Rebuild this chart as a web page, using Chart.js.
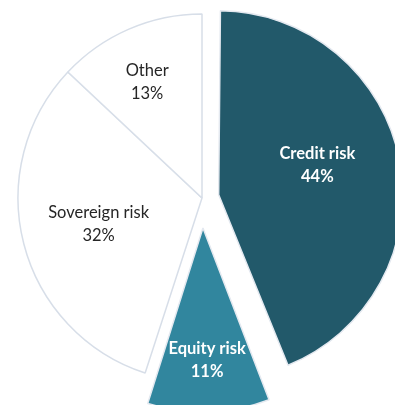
<!DOCTYPE html>
<html>
<head>
<meta charset="utf-8">
<script src="https://cdn.jsdelivr.net/npm/chart.js@4"></script>
<style>
  html, body { margin: 0; padding: 0; background: #fff; overflow: hidden; }
  #wrap { position: relative; width: 395px; height: 405px; overflow: hidden; }
  #riskChart { position: absolute; left: 0; top: 0; }
</style>
</head>
<body>
<div id="wrap">
  <canvas id="riskChart" width="420" height="420"></canvas>
</div>
<script>
// Riskide jaotus (%)
const categories = ['Credit risk', 'Equity risk', 'Sovereign risk', 'Other'];
const shares = [44, 11, 32, 13];
const sliceColors = ['#22596a', '#31869e', '#ffffff', '#ffffff'];
const labelColors = ['#ffffff', '#ffffff', '#262626', '#262626'];
const labelBold = [true, true, false, false];
const shift = [17, 30, 0, 0]; // sektori väljatõmme pikslites

const PIE_RADIUS = 184;

// Chart.js nihutab sektorit offset/4 võrra ja suurendab ka raadiust,
// seega hoiame raadiuse kõigil sektoritel ühesugusena
const keepRadius = {
    id: 'keepRadius',
    beforeDatasetsDraw(chart) {
        chart.getDatasetMeta(0).data.forEach((arc, i) => {
            const circ = arc.endAngle - arc.startAngle;
            const fix = 1 - Math.sin(Math.min(Math.PI, circ));
            arc.outerRadius = PIE_RADIUS - shift[i] * fix;
        });
    }
};

// Sildid iga sektori sisse (kaks rida: nimi ja protsent)
const sliceLabels = {
    id: 'sliceLabels',
    afterDatasetsDraw(chart, args, opts) {
        const ctx = chart.ctx;
        const meta = chart.getDatasetMeta(0);
        meta.data.forEach((arc, i) => {
            const p = arc.getProps(['x', 'y', 'startAngle', 'endAngle']);
            const mid = (p.startAngle + p.endAngle) / 2;
            const ang = mid + opts.turn[i] * Math.PI / 180;
            const x = p.x + Math.cos(mid) * shift[i] + Math.cos(ang) * PIE_RADIUS * opts.radius[i];
            const y = p.y + Math.sin(mid) * shift[i] + Math.sin(ang) * PIE_RADIUS * opts.radius[i];
            ctx.save();
            ctx.fillStyle = labelColors[i];
            ctx.font = (labelBold[i] ? 'bold ' : '') + '16.5px Lato, "Open Sans", sans-serif';
            ctx.textAlign = 'center';
            ctx.textBaseline = 'middle';
            ctx.fillText(categories[i], x, y - 11.5);
            ctx.fillText(shares[i] + '%', x, y + 11.5);
            ctx.restore();
        });
    }
};

const ctx = document.getElementById('riskChart').getContext('2d');
new Chart(ctx, {
    type: 'pie',
    data: {
        labels: categories,
        datasets: [{
            data: shares,
            backgroundColor: sliceColors,
            borderColor: ['#e4e9f0', '#e4e9f0', '#d7dee8', '#d7dee8'],
            borderWidth: 1.5,
            offset: shift.map(s => s * 4),
            hoverOffset: 0
        }]
    },
    options: {
        responsive: false,
        animation: false,
        radius: PIE_RADIUS,
        layout: { padding: { left: 0, right: 16, top: 0, bottom: 24 } },
        plugins: {
            legend: { display: false },
            tooltip: { enabled: false },
            sliceLabels: {
                radius: [0.56, 0.72, 0.58, 0.695],
                turn: [-6, 0, 0, -2]
            }
        }
    },
    plugins: [keepRadius, sliceLabels]
});
</script>
</body>
</html>
